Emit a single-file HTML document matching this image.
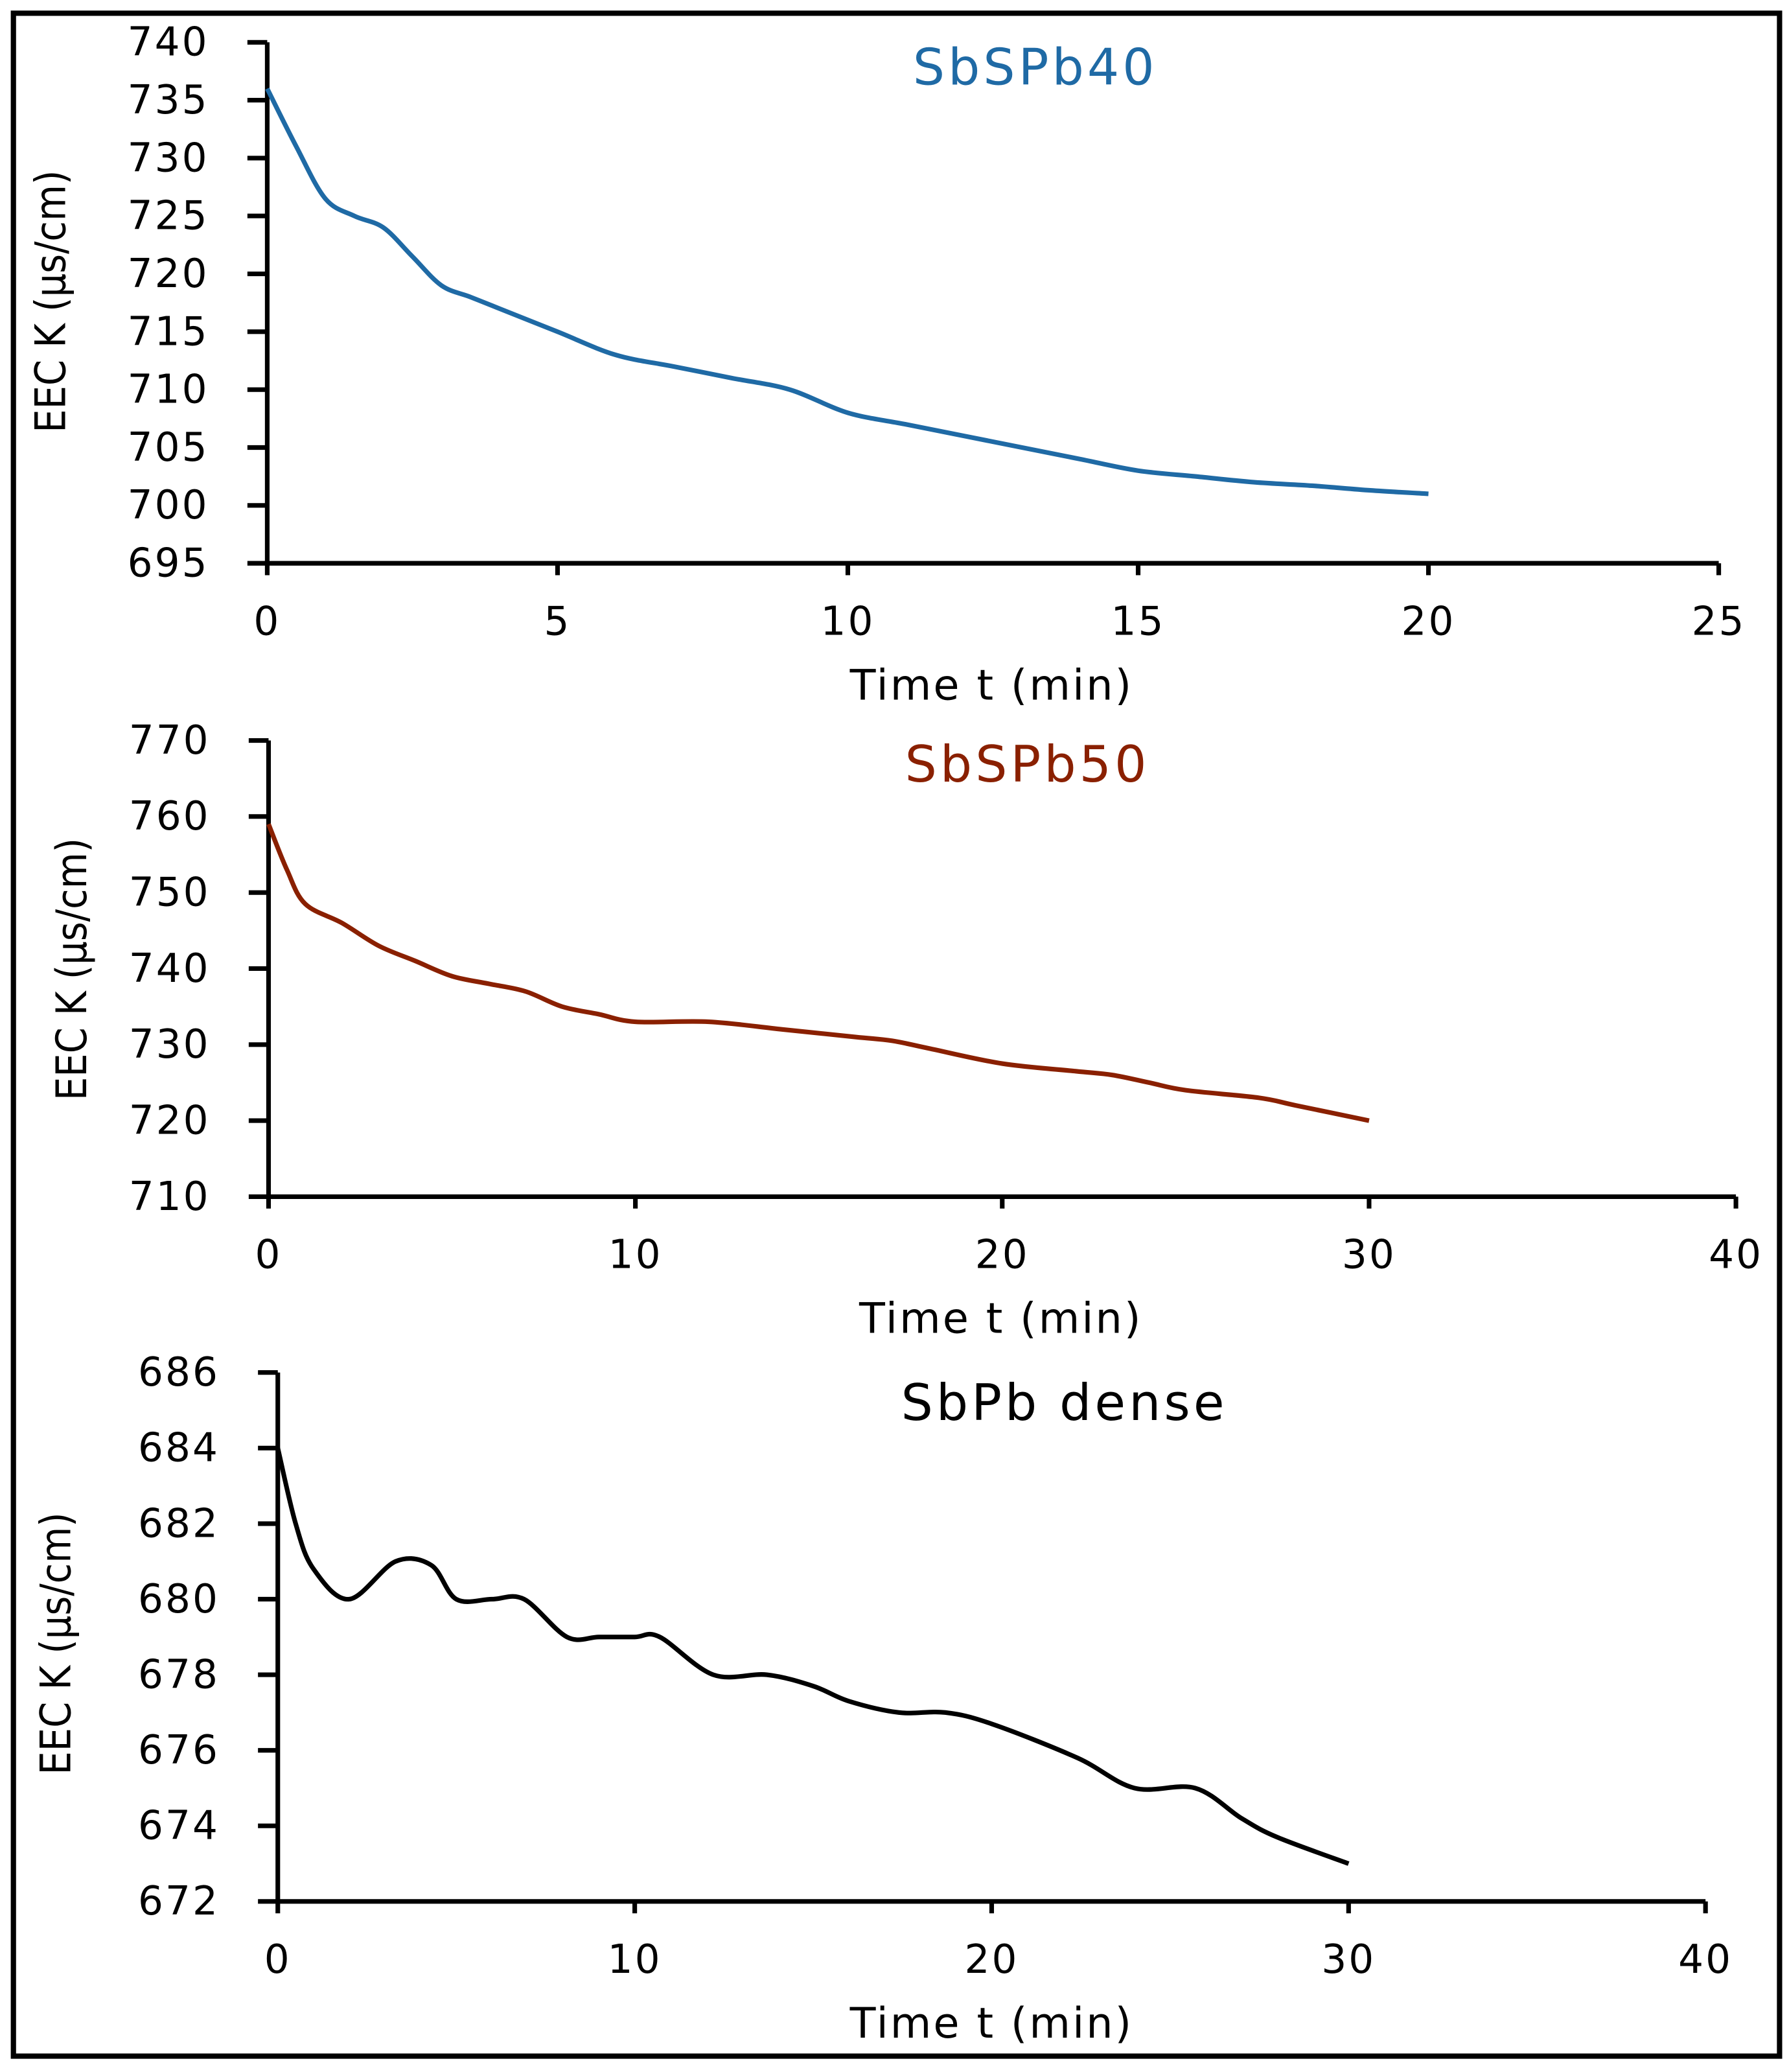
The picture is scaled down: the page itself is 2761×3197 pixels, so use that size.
<!DOCTYPE html>
<html><head><meta charset="utf-8"><style>
html,body{margin:0;padding:0;background:#fff}
svg{display:block}
text{font-family:"DejaVu Sans","Liberation Sans",sans-serif}
</style></head><body>
<svg id="fig" width="2761" height="3197" viewBox="0 0 1353 1567" xmlns="http://www.w3.org/2000/svg">
<rect x="10" y="10" width="1336" height="1545" fill="none" stroke="#000" stroke-width="4"/>
</svg>
<script>
// Chart 1: SbSPb40
const t1 = [0,0.5,1,1.5,2,2.5,3,3.5,4,5,6,7,8,9,10,11,12,13,14,15,16,17,18,19,20];
const k1 = [736,731,726.5,725,724,721.5,719,718,717,715,713,712,711,710,708,707,706,705,704,703,702.5,702,701.7,701.3,701];
const yTicks1 = [695,700,705,710,715,720,725,730,735,740];
const xTicks1 = [0,5,10,15,20,25];
// Chart 2: SbSPb50
const t2 = [0,0.5,1,2,3,4,5,6,7,8,9,10,12,14,16,17,18,20,22,23,24,25,27,28,30];
const k2 = [759,753,748.5,746,743,741,739,738,737,735,734,733,733,732,731,730.5,729.5,727.5,726.5,726,725,724,723,722,720];
const yTicks2 = [710,720,730,740,750,760,770];
const xTicks2 = [0,10,20,30,40];
// Chart 3: SbPb dense
const t3 = [0,0.5,1,2,3.3,4.3,5,6,6.9,8.1,9,10,10.7,12.2,13.7,15,16,17.4,18.7,20,22.4,24,25.7,27,28,30];
const k3 = [684,682,680.8,680,681,680.9,680,680,680,679,679,679,679,678,678,677.7,677.3,677,677,676.7,675.8,675,675,674.2,673.7,673];
const yTicks3 = [672,674,676,678,680,682,684,686];
const xTicks3 = [0,10,20,30,40];

const NS="http://www.w3.org/2000/svg";
const svg=document.getElementById('fig');
function mk(tag,attrs,parent){const e=document.createElementNS(NS,tag);for(const k in attrs)e.setAttribute(k,attrs[k]);(parent||svg).appendChild(e);return e;}

function chart(cfg,xs,ys,yT,xT){
  const g=mk('g',{});
  
  
  const sx=v=>cfg.x0+(v-xT[0])/(xT[xT.length-1]-xT[0])*(cfg.x1-cfg.x0);
  const sy=v=>cfg.y1-(v-yT[0])/(yT[yT.length-1]-yT[0])*(cfg.y1-cfg.y0);
  const ya=mk('line',{x1:cfg.x0,y1:cfg.y0,x2:cfg.x0,y2:cfg.y1,stroke:'#000','stroke-width':3.5},g);
  
  
  const xa=mk('line',{x1:cfg.x0,y1:cfg.y1,x2:cfg.x1,y2:cfg.y1,stroke:'#000','stroke-width':3.5},g);
  
  
  yT.forEach(v=>{
    mk('line',{x1:cfg.x0-15,y1:sy(v),x2:cfg.x0,y2:sy(v),stroke:'#000','stroke-width':3.5},g);
    const t=mk('text',{x:cfg.x0-44,y:sy(v)+10,'text-anchor':'end','font-size':30,'letter-spacing':1.5},g);
    t.textContent=v;
    
    
  });
  xT.forEach(v=>{
    mk('line',{x1:sx(v),y1:cfg.y1,x2:sx(v),y2:cfg.y1+9,stroke:'#000','stroke-width':3.5},g);
    const t=mk('text',{x:sx(v),y:cfg.y1+54,'text-anchor':'middle','font-size':30,'letter-spacing':1.5},g);
    t.textContent=v;
    
    
  });
  const xt=mk('text',{x:cfg.xtx,y:cfg.y1+103,'text-anchor':'middle','font-size':32,'letter-spacing':1.5},g);
  xt.textContent='Time t (min)';
  
  
  const ytt=mk('text',{x:0,y:0,'text-anchor':'middle','font-size':32,'font-family':'Liberation Sans, sans-serif',transform:`translate(${cfg.ytx},${cfg.yty}) rotate(-90) scale(0.88,1)`},g);
  ytt.textContent='EEC K (µs/cm)';
  
  
  const tt=mk('text',{x:cfg.tx,y:cfg.ty,'text-anchor':'middle','font-size':38,'letter-spacing':2.5,fill:cfg.color},g);
  tt.textContent=cfg.title;
  
  
  const P=xs.map((x,i)=>[sx(x),sy(ys[i])]);
  let d=`M${P[0][0]},${P[0][1]}`;
  for(let i=0;i<P.length-1;i++){
    const p0=P[i-1]||P[i],p1=P[i],p2=P[i+1],p3=P[i+2]||P[i+1];
    const c1=[p1[0]+(p2[0]-p0[0])/6,p1[1]+(p2[1]-p0[1])/6];
    const c2=[p2[0]-(p3[0]-p1[0])/6,p2[1]-(p3[1]-p1[1])/6];
    d+=` C${c1[0]},${c1[1]} ${c2[0]},${c2[1]} ${p2[0]},${p2[1]}`;
  }
  const path=mk('path',{d:d,fill:'none',stroke:cfg.color,'stroke-width':3.5},g);
  
  
}
chart({name:'chart-sbspb40',x0:202,x1:1300,y0:32,y1:426,color:'#1f6aa5',title:'SbSPb40',tx:783,ty:64,xtx:750,ytx:49,yty:228},t1,k1,yTicks1,xTicks1);
chart({name:'chart-sbspb50',x0:203,x1:1313,y0:560,y1:905,color:'#8a2000',title:'SbSPb50',tx:777,ty:591,xtx:757,ytx:65,yty:733},t2,k2,yTicks2,xTicks2);
chart({name:'chart-sbpb-dense',x0:210,x1:1290,y0:1038,y1:1438,color:'#000',title:'SbPb dense',tx:805,ty:1074,xtx:750,ytx:53,yty:1243},t3,k3,yTicks3,xTicks3);
</script>
</body></html>
